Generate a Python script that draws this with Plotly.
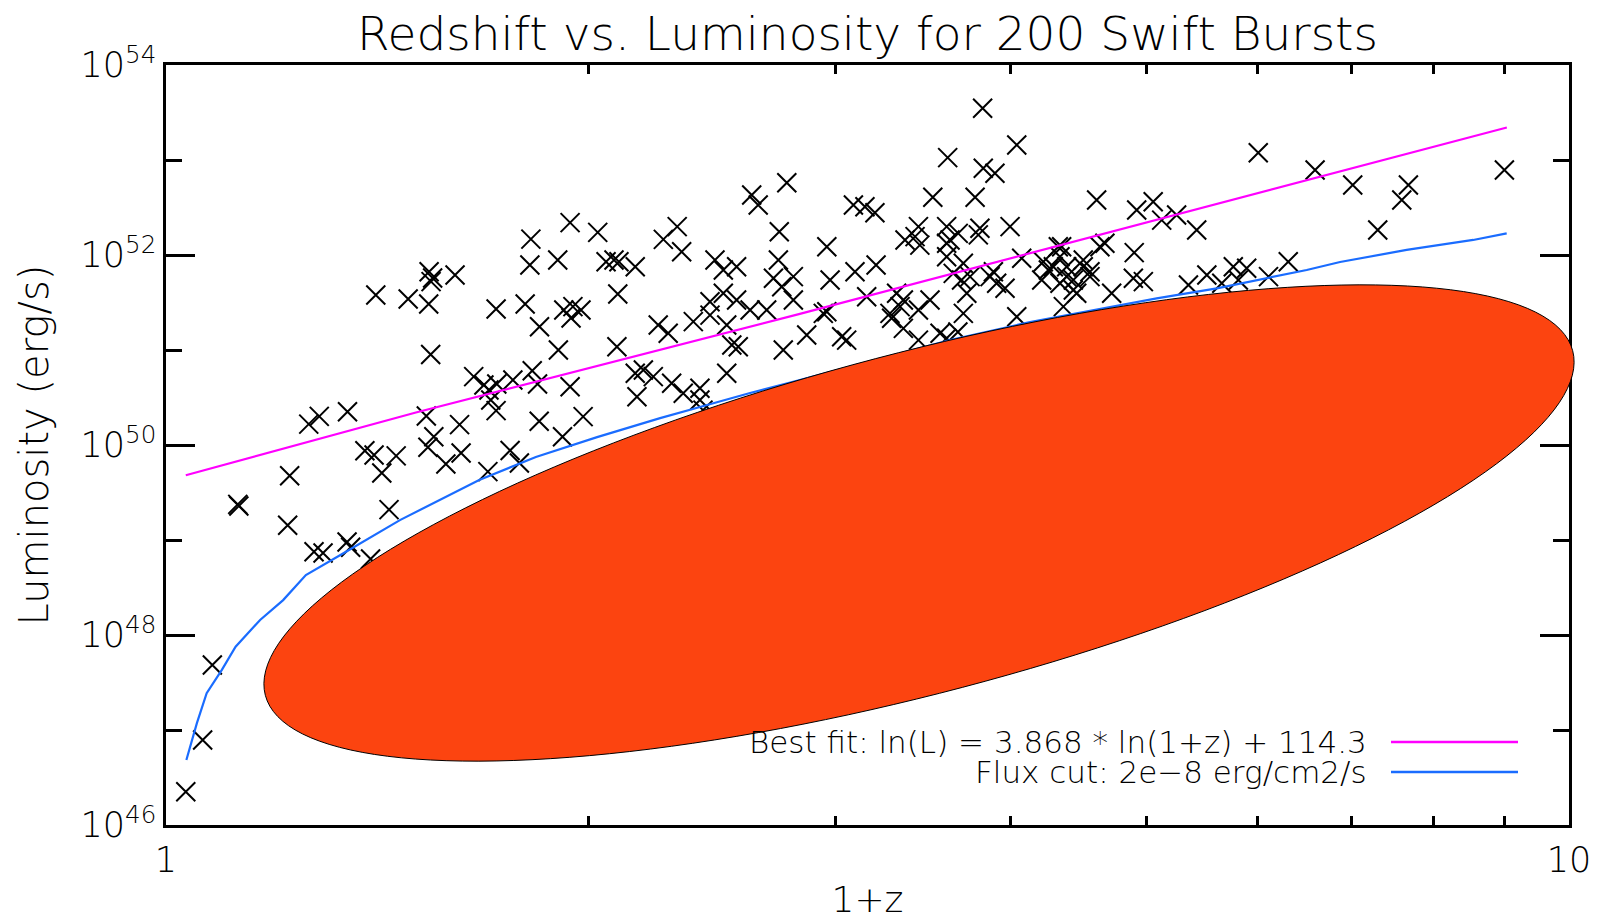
import numpy as np
import plotly.graph_objects as go

# ---- data ----
one_plus_z = [
    1.033, 1.062, 1.079, 1.125, 1.127, 1.225, 1.221, 1.264, 1.286, 1.347,
    1.275, 1.294, 1.346, 1.354, 1.399, 1.442, 1.386, 1.407, 1.425, 1.459,
    1.544, 1.533, 1.552, 1.537, 1.583, 1.619, 1.623, 1.696, 1.759, 1.786,
    1.657, 1.685, 1.699, 1.721, 1.767, 1.824, 1.840, 1.846, 1.904, 1.941,
    1.845, 1.917, 1.983, 1.704, 1.719, 1.941, 1.820, 2.031, 1.817, 1.902,
    2.059, 2.086, 2.103, 1.540, 1.549, 1.545, 1.607, 1.411, 1.488, 1.539,
    1.719, 1.803, 1.921, 1.950, 1.976, 1.944, 2.099, 2.096,
    3.820, 4.040, 3.607, 3.824, 3.898, 2.770, 2.615, 2.643, 3.520, 3.773,
    3.090, 3.149, 3.201, 2.314, 2.262, 2.331, 2.736, 2.958, 3.438, 3.363,
    3.419, 3.446, 3.601, 3.670, 3.621, 3.803, 3.793, 3.996, 2.160, 2.462,
    2.496, 2.551, 2.732, 2.710, 2.800, 2.747, 2.974, 3.098, 3.207, 3.601,
    3.601, 3.742, 3.690, 3.867, 3.909, 3.963, 4.073, 4.220, 4.255, 4.209,
    2.442, 2.496, 2.551, 2.608, 2.680, 2.800, 3.158, 3.317, 3.354, 3.438,
    3.504, 3.722, 3.701, 2.376, 2.442, 2.243, 2.280, 2.510, 2.531, 2.558,
    2.958, 2.941, 2.862, 3.031, 3.056, 3.281, 3.290, 3.354, 3.438, 3.562,
    3.601, 4.040, 2.754, 2.160, 2.189, 2.225, 2.510, 2.166, 2.293, 2.337,
    2.402, 2.402, 2.414, 3.668, 3.336, 3.640, 3.701, 3.888, 4.290, 4.385,
    4.337, 4.433, 4.506, 4.556, 4.361, 4.325,
    6.005, 6.592, 7.012, 7.683, 7.600, 8.994, 7.306, 4.606, 4.919, 5.054,
    5.125, 5.252, 5.428, 4.349, 4.669, 4.631, 4.899, 4.337, 4.385, 4.506,
    4.556, 4.433, 4.458, 4.721, 4.892, 4.973, 5.355, 5.519, 5.764, 5.892,
    6.107, 6.308, 5.812, 5.656,
]
luminosity = [
    2.24e46, 7.85e46, 4.83e47, 2.37e49, 2.28e49, 4.74e49, 1.43e49, 1.66e50, 2.00e50, 2.24e50,
    7.53e48, 7.30e48, 9.53e48, 8.38e48, 6.31e48, 2.09e49, 8.69e49, 7.85e49, 5.07e49, 7.69e49,
    8.97e50, 2.02e50, 1.22e50, 9.46e49, 6.31e49, 1.64e50, 8.24e49, 5.24e49, 8.77e49, 6.47e49,
    5.24e50, 4.29e50, 3.79e50, 4.39e50, 4.83e50, 6.04e50, 4.39e50, 1.76e51, 1.00e51, 4.11e50,
    1.78e50, 1.22e50, 1.99e50, 2.98e50, 2.30e50, 2.19e52, 1.47e52, 1.73e52, 7.85e51, 8.85e51,
    8.49e51, 8.85e51, 8.49e51, 6.67e51, 5.73e51, 5.24e51, 6.15e51, 3.79e51, 3.44e51, 3.05e51,
    2.70e51, 3.05e51, 2.64e51, 2.86e51, 2.64e51, 2.17e51, 3.88e51, 1.08e51,
    3.50e53, 1.44e53, 1.06e53, 8.18e52, 7.24e52, 5.77e52, 4.29e52, 3.36e52, 4.05e52, 4.05e52,
    3.36e52, 3.22e52, 2.79e52, 1.99e52, 1.46e52, 1.08e52, 1.76e52, 1.22e52, 1.99e52, 1.44e52,
    1.56e52, 1.27e52, 1.99e52, 1.69e52, 1.44e52, 1.91e52, 1.63e52, 1.99e52, 7.53e51, 8.85e51,
    6.95e51, 7.53e51, 8.85e51, 5.69e51, 5.92e51, 4.63e51, 5.46e51, 6.67e51, 7.85e51, 9.59e51,
    1.33e52, 5.92e51, 5.46e51, 5.92e51, 5.04e51, 4.46e51, 9.23e51, 8.49e51, 6.95e51, 5.46e51,
    3.22e51, 3.95e51, 3.36e51, 2.64e51, 2.64e51, 3.36e51, 3.64e51, 3.95e51, 3.36e51, 2.64e51,
    3.36e51, 3.95e51, 2.43e51, 1.99e51, 2.33e51, 1.83e51, 1.50e51, 1.83e51, 1.13e51, 1.08e51,
    2.53e51, 2.43e51, 1.44e51, 1.38e51, 1.27e51, 2.43e51, 2.16e51, 1.69e51, 1.27e51, 1.50e51,
    1.33e51, 2.24e51, 1.00e51, 5.69e50, 6.15e50, 5.24e50, 5.69e50, 3.22e50, 4.46e50, 3.50e50,
    3.95e50, 2.98e50, 2.33e50, 1.55e51, 2.86e51, 6.41e51, 8.18e51, 6.67e51, 7.53e51, 5.92e51,
    5.04e51, 4.29e51, 7.53e51, 5.92e51, 2.86e51, 1.22e52,
    1.19e53, 7.85e52, 5.46e52, 5.46e52, 3.79e52, 7.85e52, 1.83e52, 3.79e52, 2.98e52, 3.64e52,
    2.33e52, 2.64e52, 1.83e52, 1.22e52, 1.33e52, 1.22e52, 1.06e52, 9.59e51, 7.53e51, 8.85e51,
    6.67e51, 5.46e51, 3.95e51, 3.95e51, 5.69e51, 5.24e51, 4.83e51, 6.15e51, 7.53e51, 7.24e51,
    5.92e51, 8.49e51, 5.46e51, 5.04e51,
]

fit_x = [1.033, 1.507, 2.83, 9.03]
fit_L = [4.8e49, 2.2e50, 2.4e51, 2.2e53]

cut_x = [1.034, 1.052, 1.069, 1.096, 1.121, 1.167, 1.212, 1.258, 1.339, 1.468,
         1.672, 1.835, 2.029, 2.250, 2.402, 2.608, 2.830, 3.108, 3.622, 4.129,
         4.606, 5.083, 5.610, 5.990, 6.502, 6.868, 7.661, 8.545, 9.028]
cut_L = [4.83e46, 1.18e47, 2.44e47, 4.29e47, 7.54e47, 1.44e48, 2.33e48, 4.28e48, 7.3e48, 1.62e49,
         4.28e49, 7.48e49, 1.21e50, 1.92e50, 2.51e50, 3.53e50, 4.83e50, 6.95e50, 1.27e51, 1.97e51,
         2.64e51, 3.50e51, 4.46e51, 5.46e51, 6.95e51, 8.44e51, 1.13e52, 1.44e52, 1.69e52]

y_major = [1e46, 1e48, 1e50, 1e52, 1e54]
y_major_text = ["10<sup>46</sup>", "10<sup>48</sup>", "10<sup>50</sup>", "10<sup>52</sup>", "10<sup>54</sup>"]
y_minor = [1e47, 1e49, 1e51, 1e53]
x_major = [1, 10]
x_major_text = ["1", "10"]
x_minor = [2, 3, 4, 5, 6, 7, 8, 9]

title_text = "Redshift vs. Luminosity for 200 Swift Bursts"
fit_label = "Best fit: ln(L) = 3.868 * ln(1+z) + 114.3"
cut_label = "Flux cut: 2e\u22128 erg/cm2/s"

# ---- layout geometry (page pixels; the page body has an 8px margin) ----
OFF = 8
PX0, PX1, PY0, PY1 = 166, 1569, 65, 825          # plot area on the page
W, H = 1600 - OFF, 920 - OFF                      # figure size
L_, T_ = PX0 - OFF, PY0 - OFF
R_, B_ = W - (PX1 - OFF), H - (PY1 - OFF)
PW, PH = PX1 - PX0, PY1 - PY0
FONT = "DejaVu Sans"
MAGENTA = "#ff00ff"
BLUE = "#1a6cff"


def to_paper(px, py):
    return (px - PX0) / PW, (PY1 - py) / PH


fig = go.Figure()
fig.add_trace(go.Scatter(
    x=one_plus_z, y=luminosity, mode="markers",
    marker=dict(symbol="x-thin", size=19, color="black",
                line=dict(color="black", width=2)),
    showlegend=False, cliponaxis=False))
fig.add_trace(go.Scatter(x=fit_x, y=fit_L, mode="lines",
                         line=dict(color=MAGENTA, width=2.2), showlegend=False))
fig.add_trace(go.Scatter(x=cut_x, y=cut_L, mode="lines",
                         line=dict(color=BLUE, width=2.2), showlegend=False))

# overlaid ellipse (drawn on top of the plot)
cx, cy, ea, eb, ang = 919, 523, 676, 170, np.deg2rad(14.77)
t = np.linspace(0, 2 * np.pi, 181)
ex = cx + ea * np.cos(t) * np.cos(ang) - eb * np.sin(t) * np.sin(ang)
ey = cy - (ea * np.cos(t) * np.sin(ang) + eb * np.sin(t) * np.cos(ang))
pts = [to_paper(a, b) for a, b in zip(ex, ey)]
path = "M " + " L ".join(f"{a:.5f},{b:.5f}" for a, b in pts) + " Z"
fig.add_shape(type="path", path=path, xref="paper", yref="paper",
              fillcolor="#fc4410", line=dict(color="black", width=1), layer="above")

# legend (text on the left, line sample on the right)
leg_right = to_paper(1369, 0)[0]
lx0, lx1 = to_paper(1391, 0)[0], to_paper(1518, 0)[0]
for lbl, col, py in [(fit_label, MAGENTA, 742), (cut_label, BLUE, 772)]:
    yp = to_paper(0, py)[1]
    fig.add_annotation(x=leg_right, y=yp, xref="paper", yref="paper", text=lbl,
                       showarrow=False, xanchor="right", yanchor="middle",
                       font=dict(family=FONT, size=31, color="black", weight=200))
    fig.add_shape(type="line", xref="paper", yref="paper", x0=lx0, x1=lx1, y0=yp, y1=yp,
                  line=dict(color=col, width=2.5), layer="above")

axis_common = dict(showline=True, linecolor="black", linewidth=2.5, mirror="ticks",
                   ticks="inside", tickcolor="black", tickwidth=2.5,
                   showgrid=False, zeroline=False, automargin=False,
                   tickfont=dict(family=FONT, size=35, color="black", weight=200))

fig.update_layout(
    width=W, height=H,
    margin=dict(l=L_, r=R_, t=T_, b=B_, autoexpand=False),
    paper_bgcolor="white", plot_bgcolor="white",
    font=dict(family=FONT, color="black"),
    title=dict(text=title_text, x=(L_ + PW / 2) / W, xanchor="center",
               y=1 - (34 - OFF) / H, yanchor="middle", automargin=False,
               font=dict(family=FONT, size=47, color="black", weight=200)),
    xaxis=dict(type="log", range=[0, 1], tickvals=x_major, ticktext=x_major_text,
               ticklen=9, ticklabelstandoff=2,
               minor=dict(tickvals=x_minor, ticks="inside", ticklen=9,
                          tickwidth=2.5, tickcolor="black", showgrid=False),
               title=dict(text="1+z", font=dict(family=FONT, size=36, color="black", weight=200),
                          standoff=28),
               **axis_common),
    yaxis=dict(type="log", range=[46, 54], tickvals=y_major, ticktext=y_major_text,
               ticklen=29, ticklabelstandoff=0,
               minor=dict(tickvals=y_minor, ticks="inside", ticklen=16,
                          tickwidth=2.5, tickcolor="black", showgrid=False),
               title=dict(text="Luminosity (erg/s)",
                          font=dict(family=FONT, size=40, color="black", weight=200),
                          standoff=20),
               **axis_common),
)

fig.write_html("out.html")
